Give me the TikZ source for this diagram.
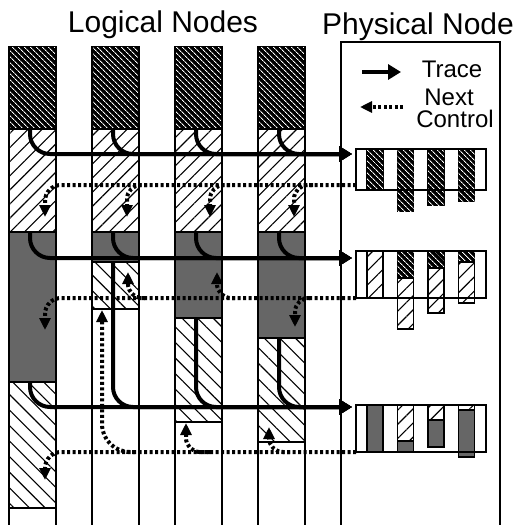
\documentclass[tikz,border=0pt]{standalone}
\usepackage{fontspec}
\setmainfont{Liberation Sans}
\usetikzlibrary{arrows.meta,patterns.meta}

\begin{document}
\begin{tikzpicture}[
  x=1pt, y=-1pt,
  seg/.style={draw, line width=1.3pt},
  darkseg/.style={seg, fill=black, postaction={pattern color=white, pattern={Lines[angle=-45, distance=4pt, line width=0.9pt]}}},
  fwdseg/.style={seg, fill=white, postaction={pattern={Lines[angle=45, distance=10pt, line width=1.1pt]}}},
  backseg/.style={seg, fill=white, postaction={pattern={Lines[angle=-45, distance=11pt, line width=1.1pt]}}},
  grayseg/.style={seg, fill=black!60},
  gridline/.style={line width=1.3pt},
  pnode/.style={draw, line width=1.3pt, minimum width=130pt, inner sep=0pt, outer sep=0pt, anchor=north west},
  traceline/.style={line width=4pt, rounded corners=20pt, -{Triangle[length=13pt, width=15pt]}},
  nextctl/.style={line width=4pt, dash pattern=on 3pt off 2.5pt, rounded corners=14pt, -{Triangle[length=12pt, width=11pt]}},
  titletext/.style={font=\fontsize{30}{32}\selectfont, anchor=base},
  legendtext/.style={font=\fontsize{24}{24}\selectfont, anchor=base, inner sep=0pt}
]

% Column width; columns start at x=9, 92, 175, 258
\def\colw{47}

\useasboundingbox (0,0) rectangle (516,525);

% Titles
\node[titletext] (logical) at (163,32) {Logical Nodes};
\node[titletext] (physical) at (418,34) {Physical Node};

% Logical node columns (dark / fwd / gray / back segments)
\foreach \cx/\gy/\by [count=\i] in {9/382/508, 92/262/309, 175/318/422, 258/338/442}{
  \draw[darkseg] (\cx,47) rectangle (\cx+\colw,129);
  \draw[fwdseg] (\cx,129) rectangle (\cx+\colw,232);
  \draw[grayseg] (\cx,232) rectangle (\cx+\colw,\gy);
  \draw[backseg] (\cx,\gy) rectangle (\cx+\colw,\by);
  \draw[gridline] (\cx,47) -- (\cx,525);
  \draw[gridline] (\cx+\colw,47) -- (\cx+\colw,525);
  \coordinate (s1-\i) at (\cx+21,129);
  \coordinate (s2-\i) at (\cx+21,232);
  \coordinate (s3-\i) at (\cx+21,\gy);
}

% Physical node frame
\draw[gridline] (341,525) -- (341,42) -- (500,42) -- (500,525);

% Legend
\node[legendtext] (lgtrace) at (452,77) {Trace};
\node[legendtext] (lgnext) at (449,105) {Next};
\node[legendtext] (lgctl) at (455,127) {Control};
\coordinate (lt-a) at (362,72);
\coordinate (lt-b) at (401,72);
\coordinate (ln-a) at (403,107);
\coordinate (ln-b) at (360,107);
\draw[traceline] (lt-a) -- (lt-b);
\draw[nextctl] (ln-a) -- (ln-b);

% Memory bars, first physical node
\foreach \bx/\bb in {367/190, 397.5/211, 428/205, 458.5/201}{
  \draw[darkseg] (\bx,149) rectangle (\bx+16,\bb);
}
\node[pnode, minimum height=41pt] (pn1) at (356,149) {};

% Memory bars, second physical node
\foreach \bx/\bm/\bb in {367/251/298, 397.5/278/329, 428/268/313, 458.5/262/303}{
  \draw[darkseg] (\bx,251) rectangle (\bx+16,\bm);
  \draw[fwdseg] (\bx,\bm) rectangle (\bx+16,\bb);
}
\node[pnode, minimum height=47pt] (pn2) at (356,251) {};

% Memory bars, third physical node
\foreach \bx/\bm/\bb in {367/405/452, 397.5/441/452, 428/420/447, 458.5/410/457}{
  \draw[fwdseg] (\bx,405) rectangle (\bx+16,\bm);
  \draw[grayseg] (\bx,\bm) rectangle (\bx+16,\bb);
}
\node[pnode, minimum height=47pt] (pn3) at (356,405) {};

% Trace arrows into the physical nodes
\coordinate (in1) at ([xshift=-4pt,yshift=-5pt]pn1.north west);
\coordinate (in2) at ([xshift=-4pt,yshift=-7pt]pn2.north west);
\coordinate (in3) at ([xshift=-4pt,yshift=-2pt]pn3.north west);
\foreach \i in {1,...,4}{
  \draw[traceline] (s1-\i) |- (in1);
  \draw[traceline] (s2-\i) |- (in2);
  \draw[traceline] (s3-\i) |- (in3);
}

% Next control lines out of the physical nodes
\coordinate (o1) at ([yshift=5pt]pn1.south west);
\coordinate (o2) at (pn2.south west);
\coordinate (o3) at (pn3.south west);
\coordinate (n1-1b) at (45,217);
\coordinate (n2-1b) at (45,330);
\coordinate (n3-1b) at (45,480);
\foreach \name/\bx/\by/\tx/\ty in {
  n1-2/147/185/127/217, n1-3/230/185/210/217, n1-4/313/185/294/217,
  n2-2/145/298/128/272, n2-3/235/298/217/272, n2-4/310/298/295/327,
  n3-2/135/452/102/310, n3-3/210/452/186/423, n3-4/290/452/269/427%
}{
  \coordinate (\name a) at (\bx,\by);
  \coordinate (\name b) at (\tx,\ty);
}
\draw[nextctl, rounded corners=16pt] (o1) -| (n1-1b);
\draw[nextctl, rounded corners=16pt] (o2) -| (n2-1b);
\draw[nextctl, rounded corners=16pt] (o3) -| (n3-1b);
\foreach \c in {2,3,4}{
  \draw[nextctl] (n1-\c a) -| (n1-\c b);
  \draw[nextctl] (n2-\c a) -| (n2-\c b);
}
\draw[nextctl, rounded corners=28pt] (n3-2a) -| (n3-2b);
\draw[nextctl] (n3-3a) -| (n3-3b);
\draw[nextctl] (n3-4a) -| (n3-4b);

\end{tikzpicture}
\end{document}
